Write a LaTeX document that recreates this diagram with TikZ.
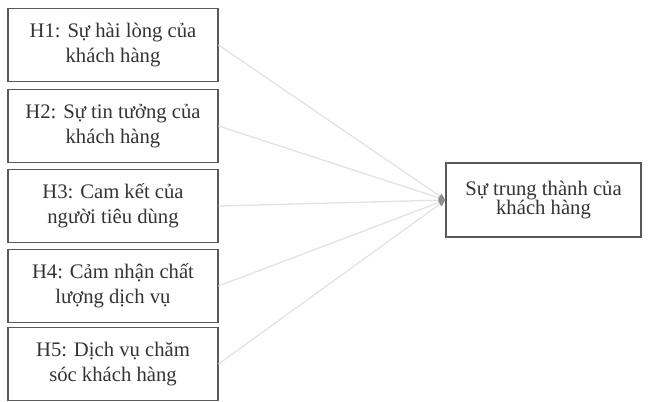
\documentclass[tikz,border=0pt]{standalone}
\usepackage{fontspec}
\setmainfont{Liberation Serif}
\usepackage{tikz}
\usetikzlibrary{arrows.meta,positioning}

\begin{document}
\begin{tikzpicture}[
    x=0.75pt, y=-0.75pt,
    hbox/.style={draw=black!65, line width=0.8pt, align=center, text=black!80,
        minimum width=157.5pt, minimum height=54.75pt, inner sep=2pt,
        font=\fontsize{15.5}{18.75}\selectfont},
    tbox/.style={hbox, minimum width=146.25pt, minimum height=55.5pt,
        font=\fontsize{15.5}{14.5}\selectfont},
    link/.style={draw=black!11, line width=1pt,
        -{Latex[length=5pt,width=5pt,color=black!45]}}]
\useasboundingbox (0,0) rectangle (649,402);

% factors
\node[hbox] (H1) at (113,45)  {H1: Sự hài lòng của\\khách hàng};
\node[hbox] (H2) at (113,126) {H2: Sự tin tưởng của\\khách hàng};
\node[hbox] (H3) at (113,206) {H3: Cam kết của\\người tiêu dùng};
\node[hbox] (H4) at (113,286) {H4: Cảm nhận chất\\lượng dịch vụ};
\node[hbox] (H5) at (113,364) {H5: Dịch vụ chăm\\sóc khách hàng};

% outcome
\node[tbox] (loyal) at (543.5,200) {Sự trung thành của\\khách hàng};

\path[link] (H1.east) -- (loyal.west);
\path[link] (H2.east) -- (loyal.west);
\path[link] (H3.east) -- (loyal.west);
\path[link] (H4.east) -- (loyal.west);
\path[link] (H5.east) -- (loyal.west);

\end{tikzpicture}
\end{document}
